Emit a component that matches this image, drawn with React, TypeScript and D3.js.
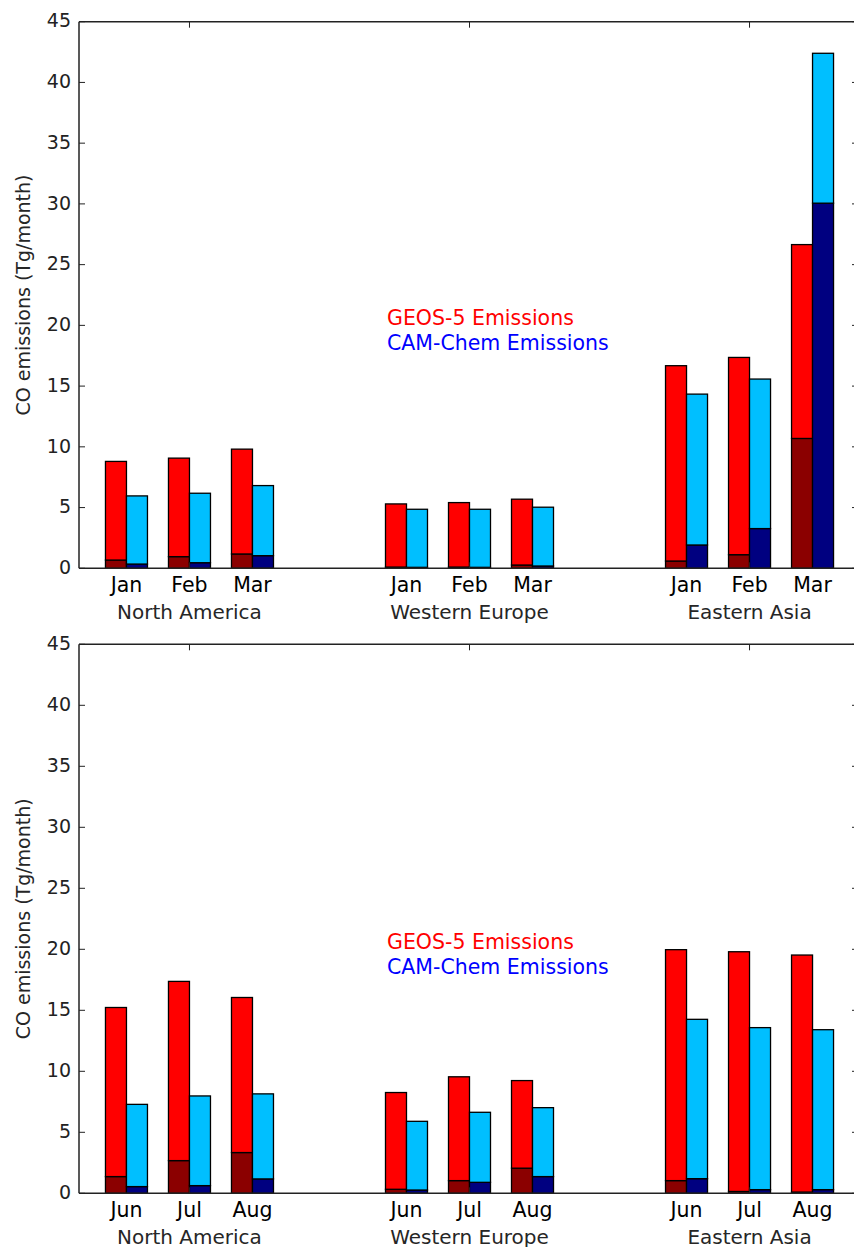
import React from "react";
import * as d3 from "d3";

const groups = ["North America", "Western Europe", "Eastern Asia"];
const monthsWinter = ["Jan", "Feb", "Mar"];
const monthsSummer = ["Jun", "Jul", "Aug"];
const yTicks = [0, 5, 10, 15, 20, 25, 30, 35, 40, 45];

// values per group x month (NA Jan..Mar, WE Jan..Mar, EA Jan..Mar)
const geosTotalWinter = [8.8, 9.07, 9.81, 5.3, 5.41, 5.69, 16.68, 17.36, 26.65];
const geosSubWinter = [0.68, 0.96, 1.18, 0.1, 0.1, 0.27, 0.6, 1.12, 10.69];
const camTotalWinter = [5.96, 6.18, 6.81, 4.86, 4.86, 5.03, 14.34, 15.58, 42.4];
const camSubWinter = [0.35, 0.46, 1.04, 0.08, 0.08, 0.19, 1.92, 3.27, 30.06];

const geosTotalSummer = [15.23, 17.37, 16.05, 8.26, 9.55, 9.24, 19.97, 19.8, 19.53];
const geosSubSummer = [1.37, 2.68, 3.34, 0.33, 1.04, 2.06, 1.04, 0.15, 0.1];
const camTotalSummer = [7.29, 7.98, 8.15, 5.9, 6.64, 7.02, 14.26, 13.58, 13.41];
const camSubSummer = [0.55, 0.63, 1.18, 0.27, 0.9, 1.37, 1.2, 0.3, 0.3];

const legendLabels = ["GEOS-5 Emissions", "CAM-Chem Emissions"];

const W = 854;
const H = 1247;
const FONT = "DejaVu Sans, sans-serif";
const LEFT = 79;
const RIGHT = 860;
const RIGHT_SPINE = 858;

const xGroup = d3
  .scaleBand<string>()
  .domain(groups)
  .range([LEFT, RIGHT])
  .paddingInner(0.325)
  .paddingOuter(0.057);

const xMonth = d3
  .scaleBand<number>()
  .domain([0, 1, 2])
  .range([0, xGroup.bandwidth()])
  .paddingInner(1 / 3)
  .paddingOuter(1 / 6);

const xSeries = d3
  .scaleBand<number>()
  .domain([0, 1])
  .range([0, xMonth.bandwidth()]);

type PanelProps = {
  top: number;
  bottom: number;
  months: string[];
  geosTotal: number[];
  geosSub: number[];
  camTotal: number[];
  camSub: number[];
};

function Panel({ top, bottom, months, geosTotal, geosSub, camTotal, camSub }: PanelProps) {
  const y = d3.scaleLinear().domain([0, 45]).range([bottom, top]);
  const bars: React.ReactNode[] = [];
  groups.forEach((g, gi) => {
    months.forEach((m, mi) => {
      const idx = gi * 3 + mi;
      const x0 = (xGroup(g) as number) + (xMonth(mi) as number);
      const series = [
        { total: geosTotal[idx], sub: geosSub[idx], light: "#ff0000", dark: "#8b0000" },
        { total: camTotal[idx], sub: camSub[idx], light: "#00bfff", dark: "#000080" },
      ];
      series.forEach((s, si) => {
        const bx = x0 + (xSeries(si) as number);
        const bw = xSeries.bandwidth();
        bars.push(
          <rect
            key={`d-${idx}-${si}`}
            x={bx}
            y={y(s.sub)}
            width={bw}
            height={y(0) - y(s.sub)}
            fill={s.dark}
            stroke="#000"
            strokeWidth={1.3}
          />
        );
        bars.push(
          <rect
            key={`l-${idx}-${si}`}
            x={bx}
            y={y(s.total)}
            width={bw}
            height={y(s.sub) - y(s.total)}
            fill={s.light}
            stroke="#000"
            strokeWidth={1.3}
          />
        );
      });
    });
  });

  const monthLabels: React.ReactNode[] = [];
  groups.forEach((g, gi) => {
    months.forEach((m, mi) => {
      const cx = (xGroup(g) as number) + (xMonth(mi) as number) + xMonth.bandwidth() / 2;
      monthLabels.push(
        <text
          key={`m-${gi}-${mi}`}
          x={cx}
          y={bottom + 23.4}
          textAnchor="middle"
          fontSize={20.5}
          fill="#000"
        >
          {m}
        </text>
      );
    });
  });

  const gc = (g: string) => (xGroup(g) as number) + xGroup.bandwidth() / 2;
  const midY = (top + bottom) / 2;

  return (
    <g fontFamily={FONT}>
      {bars}
      {/* spines */}
      <line x1={LEFT} x2={LEFT} y1={top} y2={bottom} stroke="#222" strokeWidth={1.5} />
      <line x1={RIGHT_SPINE} x2={RIGHT_SPINE} y1={top} y2={bottom} stroke="#222" strokeWidth={1.5} />
      <line x1={LEFT} x2={W + 10} y1={top} y2={top} stroke="#222" strokeWidth={1.5} />
      <line x1={LEFT} x2={W + 10} y1={bottom} y2={bottom} stroke="#222" strokeWidth={1.5} />
      {/* y ticks */}
      {yTicks.map((t) => (
        <g key={`yt-${t}`}>
          <line x1={LEFT} x2={LEFT + 6} y1={y(t)} y2={y(t)} stroke="#222" strokeWidth={1} />
          <line x1={RIGHT_SPINE - 6} x2={RIGHT_SPINE} y1={y(t)} y2={y(t)} stroke="#222" strokeWidth={1} />
          <text x={LEFT - 8} y={y(t)} dy="0.3em" textAnchor="end" fontSize={19} fill="#222">
            {t}
          </text>
        </g>
      ))}
      {/* x ticks at group centers */}
      {groups.map((g) => (
        <g key={`xt-${g}`}>
          <line x1={gc(g)} x2={gc(g)} y1={top} y2={top + 6} stroke="#222" strokeWidth={1} />
          <line x1={gc(g)} x2={gc(g)} y1={bottom} y2={bottom - 6} stroke="#222" strokeWidth={1} />
        </g>
      ))}
      {monthLabels}
      {groups.map((g) => (
        <text key={`gl-${g}`} x={gc(g)} y={bottom + 50.2} textAnchor="middle" fontSize={20} fill="#262626">
          {g}
        </text>
      ))}
      <text
        transform={`translate(29.5, ${midY}) rotate(-90)`}
        textAnchor="middle"
        fontSize={19}
        fill="#262626"
      >
        CO emissions (Tg/month)
      </text>
      <text x={387} y={y(20)} fontSize={20.5} fill="#ff0000">
        {legendLabels[0]}
      </text>
      <text x={387} y={y(18)} fontSize={20.5} fill="#0000ff">
        {legendLabels[1]}
      </text>
    </g>
  );
}

export default function App() {
  return (
    <svg
      width={W}
      height={H}
      viewBox={`0 0 ${W} ${H}`}
      style={{ position: "absolute", left: 0, top: 0, background: "#fff" }}
    >
      <rect x={0} y={0} width={W} height={H} fill="#fff" />
      <Panel
        top={21.7}
        bottom={568.3}
        months={monthsWinter}
        geosTotal={geosTotalWinter}
        geosSub={geosSubWinter}
        camTotal={camTotalWinter}
        camSub={camSubWinter}
      />
      <Panel
        top={644.3}
        bottom={1193.3}
        months={monthsSummer}
        geosTotal={geosTotalSummer}
        geosSub={geosSubSummer}
        camTotal={camTotalSummer}
        camSub={camSubSummer}
      />
    </svg>
  );
}
